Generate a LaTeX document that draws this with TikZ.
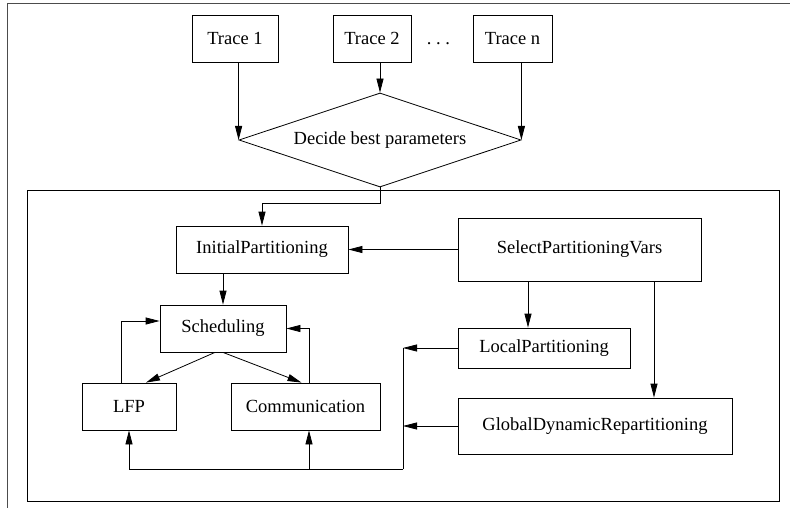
\documentclass[tikz,border=0pt]{standalone}
\usepackage{fontspec}
\setmainfont{Liberation Serif}
\usetikzlibrary{shapes.geometric,arrows.meta,calc}

\begin{document}
\begin{tikzpicture}[x=1pt, y=-1pt, line width=0.8pt,
	>={Triangle[length=14pt,width=7pt]},
	font=\fontsize{18.5}{22}\selectfont,
	blk/.style={draw, rectangle, inner sep=0pt, minimum height=47pt}]
	\useasboundingbox (0,0) rectangle (790,508);
	% frames
	\draw[black!70, line width=1pt] (790,4) -- (7,4) -- (7,508);
	\draw (27,190) rectangle (779,501);
	% traces and decision
	\node[blk, minimum width=86pt] (t1) at (235,38.5) {Trace 1};
	\node[blk, minimum width=78pt] (t2) at (372,38.5) {Trace 2};
	\node[anchor=base] (dots) at ($(t2.base)+(66.5,0)$) {.\ .\ .};
	\node[blk, minimum width=79pt] (tn) at (512.5,38.5) {Trace n};
	\node[draw, diamond, aspect=3, inner sep=0pt, minimum width=282pt, minimum height=94pt] (dec) at (380,140) {Decide best parameters};
	\path[->]
	(t1.south -| dec.west) edge (dec.west)
	(t2.south -| dec.north) edge (dec.north)
	(tn.south -| dec.east) edge (dec.east)
	;
	% partitioning
	\node[blk, minimum width=172pt] (ip) at (262,249.5) {InitialPartitioning};
	\node[blk, minimum width=126pt] (sch) at (223,328.5) {Scheduling};
	\node[blk, minimum width=94pt] (lfp) at (129,406.5) {LFP};
	\node[blk, minimum width=149pt] (com) at (305.5,406.5) {Communication};
	\node[blk, minimum width=243pt, minimum height=63pt] (sel) at (579.5,249.5) {SelectPartitioningVars};
	\node[blk, minimum width=172pt, minimum height=40pt] (loc) at (544,348) {LocalPartitioning};
	\node[blk, minimum width=274pt, minimum height=56pt] (glo) at (595,426) {GlobalDynamicRepartitioning};
	\coordinate (bus) at (403,469);
	\coordinate (cin) at ($(com.south)+(3.5,0)$);
	\draw[->] (dec.south) -- ++(0,16) -| (ip.north);
	\draw[->] (sel.west) -- (ip.east);
	\draw[->] (ip.south -| sch.north) -- (sch.north);
	\draw[->] ($(sch.south)+(-8,0)$) -- ($(lfp.north)+(17,0)$);
	\draw[->] (sch.south) -- ($(com.north)+(-4,0)$);
	\draw[->] ($(lfp.north)+(-8,0)$) |- ($(sch.west)+(0,-7.5)$);
	\draw[->] ($(com.north)+(3.5,0)$) |- (sch.east);
	\draw[->] ($(sel.south)+(-51.5,0)$) -- ($(loc.north)+(-16,0)$);
	\draw[->] ($(sel.south)+(74.5,0)$) -- ($(glo.north)+(59,0)$);
	\draw[->] (loc.west) -- (loc.west -| bus);
	\draw[->] (glo.west) -- (glo.west -| bus);
	\draw (loc.west -| bus) -- (bus);
	\draw[->] (bus) -| (lfp.south);
	\draw[->] (cin |- bus) -- (cin);
\end{tikzpicture}
\end{document}
